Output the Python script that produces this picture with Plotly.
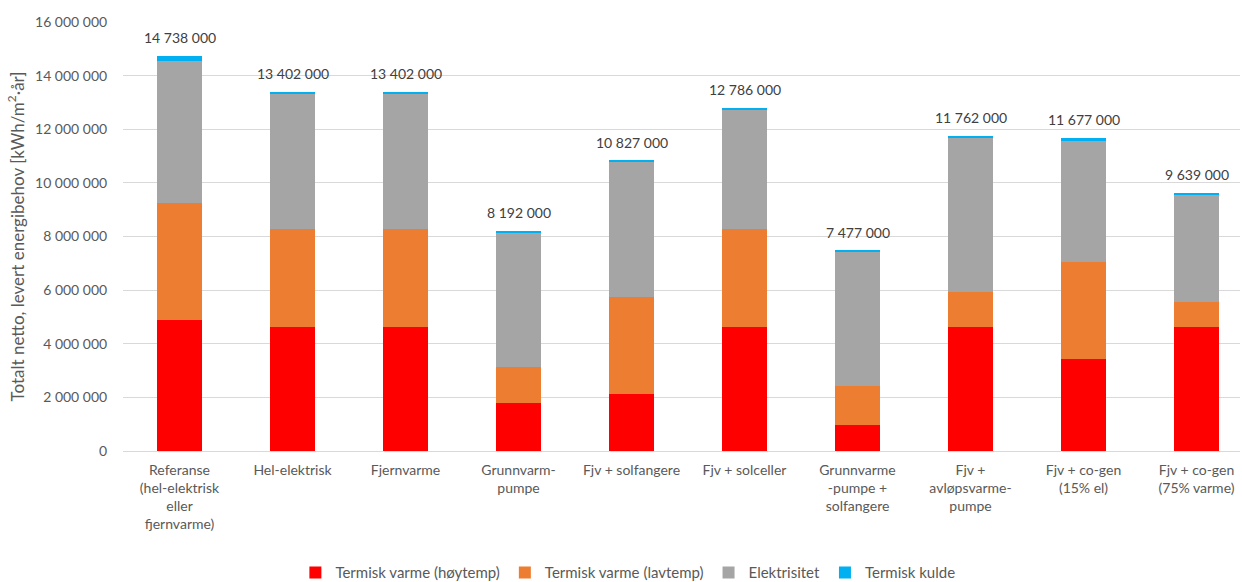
import plotly.graph_objects as go

categories = [
    "Referanse<br>(hel-elektrisk<br>eller<br>fjernvarme)",
    "Hel-elektrisk",
    "Fjernvarme",
    "Grunnvarm-<br>pumpe",
    "Fjv + solfangere",
    "Fjv + solceller",
    "Grunnvarme<br>-pumpe +<br>solfangere",
    "Fjv +<br>avløpsvarme-<br>pumpe",
    "Fjv + co-gen<br>(15% el)",
    "Fjv + co-gen<br>(75% varme)",
]
hoytemp = [4880000, 4640000, 4640000, 1800000, 2130000, 4640000, 970000, 4640000, 3420000, 4640000]
lavtemp = [4370000, 3640000, 3640000, 1350000, 3630000, 3630000, 1450000, 1300000, 3640000, 930000]
elektrisitet = [5300000, 5060000, 5060000, 5005000, 5030000, 4450000, 5020000, 5720000, 4500000, 3980000]
kulde = [188000, 62000, 62000, 37000, 37000, 66000, 37000, 102000, 117000, 89000]
totals = [14738000, 13402000, 13402000, 8192000, 10827000, 12786000, 7477000, 11762000, 11677000, 9639000]
y_ticks = [0, 2000000, 4000000, 6000000, 8000000, 10000000, 12000000, 14000000, 16000000]

x = list(range(len(categories)))
FONT = "Lato"
GRAY = "#595959"

fig = go.Figure()
series = [
    ("Termisk varme (høytemp)", hoytemp, "#FF0000"),
    ("Termisk varme (lavtemp)", lavtemp, "#ED7D31"),
    ("Elektrisitet", elektrisitet, "#A5A5A5"),
    ("Termisk kulde", kulde, "#00B0F0"),
]
for name, vals, col in series:
    fig.add_trace(go.Bar(x=x, y=vals, name=name, marker=dict(color=col, line=dict(width=0)),
                         width=0.4))

for xi, tot in zip(x, totals):
    fig.add_annotation(x=xi, y=tot, text=f"{tot:,}".replace(",", " "),
                       showarrow=False, yanchor="bottom", yshift=8,
                       font=dict(family=FONT, size=14, color="#404040"))

fig.update_layout(
    width=1242, height=582,
    barmode="stack",
    separators=", ",
    plot_bgcolor="white", paper_bgcolor="white",
    margin=dict(l=123, r=2, t=22, b=131, autoexpand=False),
    font=dict(family=FONT, color=GRAY, size=14),
    legend=dict(orientation="h", x=0.452, xanchor="center", y=-0.284, yanchor="middle",
                font=dict(family=FONT, size=15, color=GRAY), traceorder="normal",
                itemwidth=30, tracegroupgap=0),
    xaxis=dict(tickmode="array", tickvals=x, ticktext=categories, range=[-0.5, 9.385],
               showgrid=False, showline=False, zeroline=False, ticks="outside",
               ticklen=6, tickcolor="white", automargin=False,
               tickfont=dict(family=FONT, size=14, color=GRAY)),
    yaxis=dict(range=[0, 16000000], tickvals=y_ticks, tickformat=",d",
               showgrid=True, gridcolor="#D9D9D9", gridwidth=1,
               zeroline=True, zerolinecolor="#D9D9D9", zerolinewidth=1,
               showline=False, ticks="outside", ticklen=12, tickcolor="white",
               automargin=False,
               tickfont=dict(family=FONT, size=14, color=GRAY),
               title=dict(text="Totalt netto, levert energibehov [kWh/m<sup>2</sup>·år]",
                          font=dict(family=FONT, size=17, color=GRAY), standoff=6)),
)

fig.write_html("out.html")
